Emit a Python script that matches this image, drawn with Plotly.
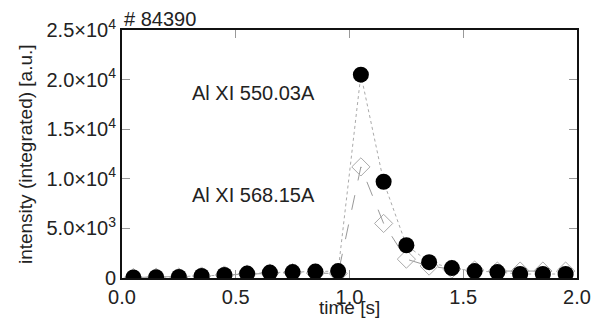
import plotly.graph_objects as go

time_s = [0.05, 0.15, 0.25, 0.35, 0.45, 0.55, 0.65, 0.75, 0.85, 0.95,
          1.05, 1.15, 1.25, 1.35, 1.45, 1.55, 1.65, 1.75, 1.85, 1.95]
al_550 = [50, 80, 100, 200, 300, 450, 550, 600, 650, 700,
          20500, 9700, 3300, 1600, 1000, 700, 600, 400, 400, 400]
al_568 = [50, 80, 100, 200, 300, 400, 500, 550, 500, 450,
          11200, 5500, 1900, 1200, 900, 800, 700, 700, 700, 700]

y_tickvals = [0, 5000, 10000, 15000, 20000, 25000]
y_ticktext = ["0", "5.0×10<sup>3</sup>", "1.0×10<sup>4</sup>", "1.5×10<sup>4</sup>",
              "2.0×10<sup>4</sup>", "2.5×10<sup>4</sup>"]
y_minor = [1000, 2000, 3000, 4000, 6000, 7000, 8000, 9000, 11000, 12000, 13000, 14000,
           16000, 17000, 18000, 19000, 21000, 22000, 23000, 24000]
x_tickvals = [0.0, 0.5, 1.0, 1.5, 2.0]
x_ticktext = ["0.0", "0.5", "1.0", "1.5", "2.0"]
x_minor = [0.1, 0.2, 0.3, 0.4, 0.6, 0.7, 0.8, 0.9, 1.1, 1.2, 1.3, 1.4, 1.6, 1.7, 1.8, 1.9]

FONT = "Liberation Sans"
X_RANGE = [0, 2.0]
Y_RANGE = [0, 25000]

fig = go.Figure()
fig.add_trace(go.Scatter(
    x=time_s, y=al_568, mode="lines+markers",
    line=dict(color="#999999", width=1, dash="longdash"),
    marker=dict(symbol="diamond-open", size=14, color="#aaaaaa", line=dict(width=1)),
    showlegend=False))
fig.add_trace(go.Scatter(
    x=time_s, y=al_550, mode="lines+markers",
    line=dict(color="#aaaaaa", width=1, dash="dot"),
    marker=dict(symbol="circle", size=16, color="black"),
    showlegend=False))

common = dict(showgrid=False, zeroline=False, showline=True, linecolor="#111111",
              linewidth=2, mirror="ticks", ticks="inside", ticklen=8,
              tickcolor="#999999", tickwidth=1,
              tickfont=dict(family=FONT, size=20, color="#222222"))
minor_common = dict(showgrid=False, zeroline=False, showline=False, mirror="ticks",
                    ticks="inside", ticklen=4, tickcolor="#999999", tickwidth=1,
                    showticklabels=False, tickmode="array")

fig.update_layout(
    xaxis=dict(range=X_RANGE, tickmode="array", tickvals=x_tickvals, ticktext=x_ticktext,
               **common),
    yaxis=dict(range=Y_RANGE, tickmode="array", tickvals=y_tickvals, ticktext=y_ticktext,
               **common),
    xaxis2=dict(range=X_RANGE, overlaying="x", anchor="y", side="bottom",
                tickvals=x_minor, **minor_common),
    yaxis2=dict(range=Y_RANGE, overlaying="y", anchor="x", side="left",
                tickvals=y_minor, **minor_common),
)

fig.update_layout(
    width=603, height=322,
    margin=dict(l=122, r=26, t=30, b=44, autoexpand=False),
    plot_bgcolor="white", paper_bgcolor="white",
    font=dict(family=FONT, color="#222222"),
    annotations=[
        dict(text="# 84390", x=0, y=1, xref="paper", yref="paper", xanchor="left",
             yanchor="bottom", yshift=-2, showarrow=False, font=dict(size=20)),
        dict(text="Al XI 550.03A", x=0.149, y=18650, xref="paper", yref="y", xanchor="left",
             yanchor="middle", showarrow=False, font=dict(size=20)),
        dict(text="Al XI 568.15A", x=0.149, y=8370, xref="paper", yref="y", xanchor="left",
             yanchor="middle", showarrow=False, font=dict(size=20)),
        dict(text="time [s]", x=0.5, y=0, xref="paper", yref="paper", xanchor="center",
             yanchor="top", yshift=-17, showarrow=False, font=dict(size=19)),
        dict(text="intensity (integrated) [a.u.]", x=-0.213, y=0.5, xref="paper", yref="paper",
             xanchor="center", yanchor="middle", showarrow=False, textangle=-90,
             font=dict(size=19)),
    ],
)

fig.write_html("out.html", config={"displayModeBar": False},
               post_script="document.body.style.margin='0';")
